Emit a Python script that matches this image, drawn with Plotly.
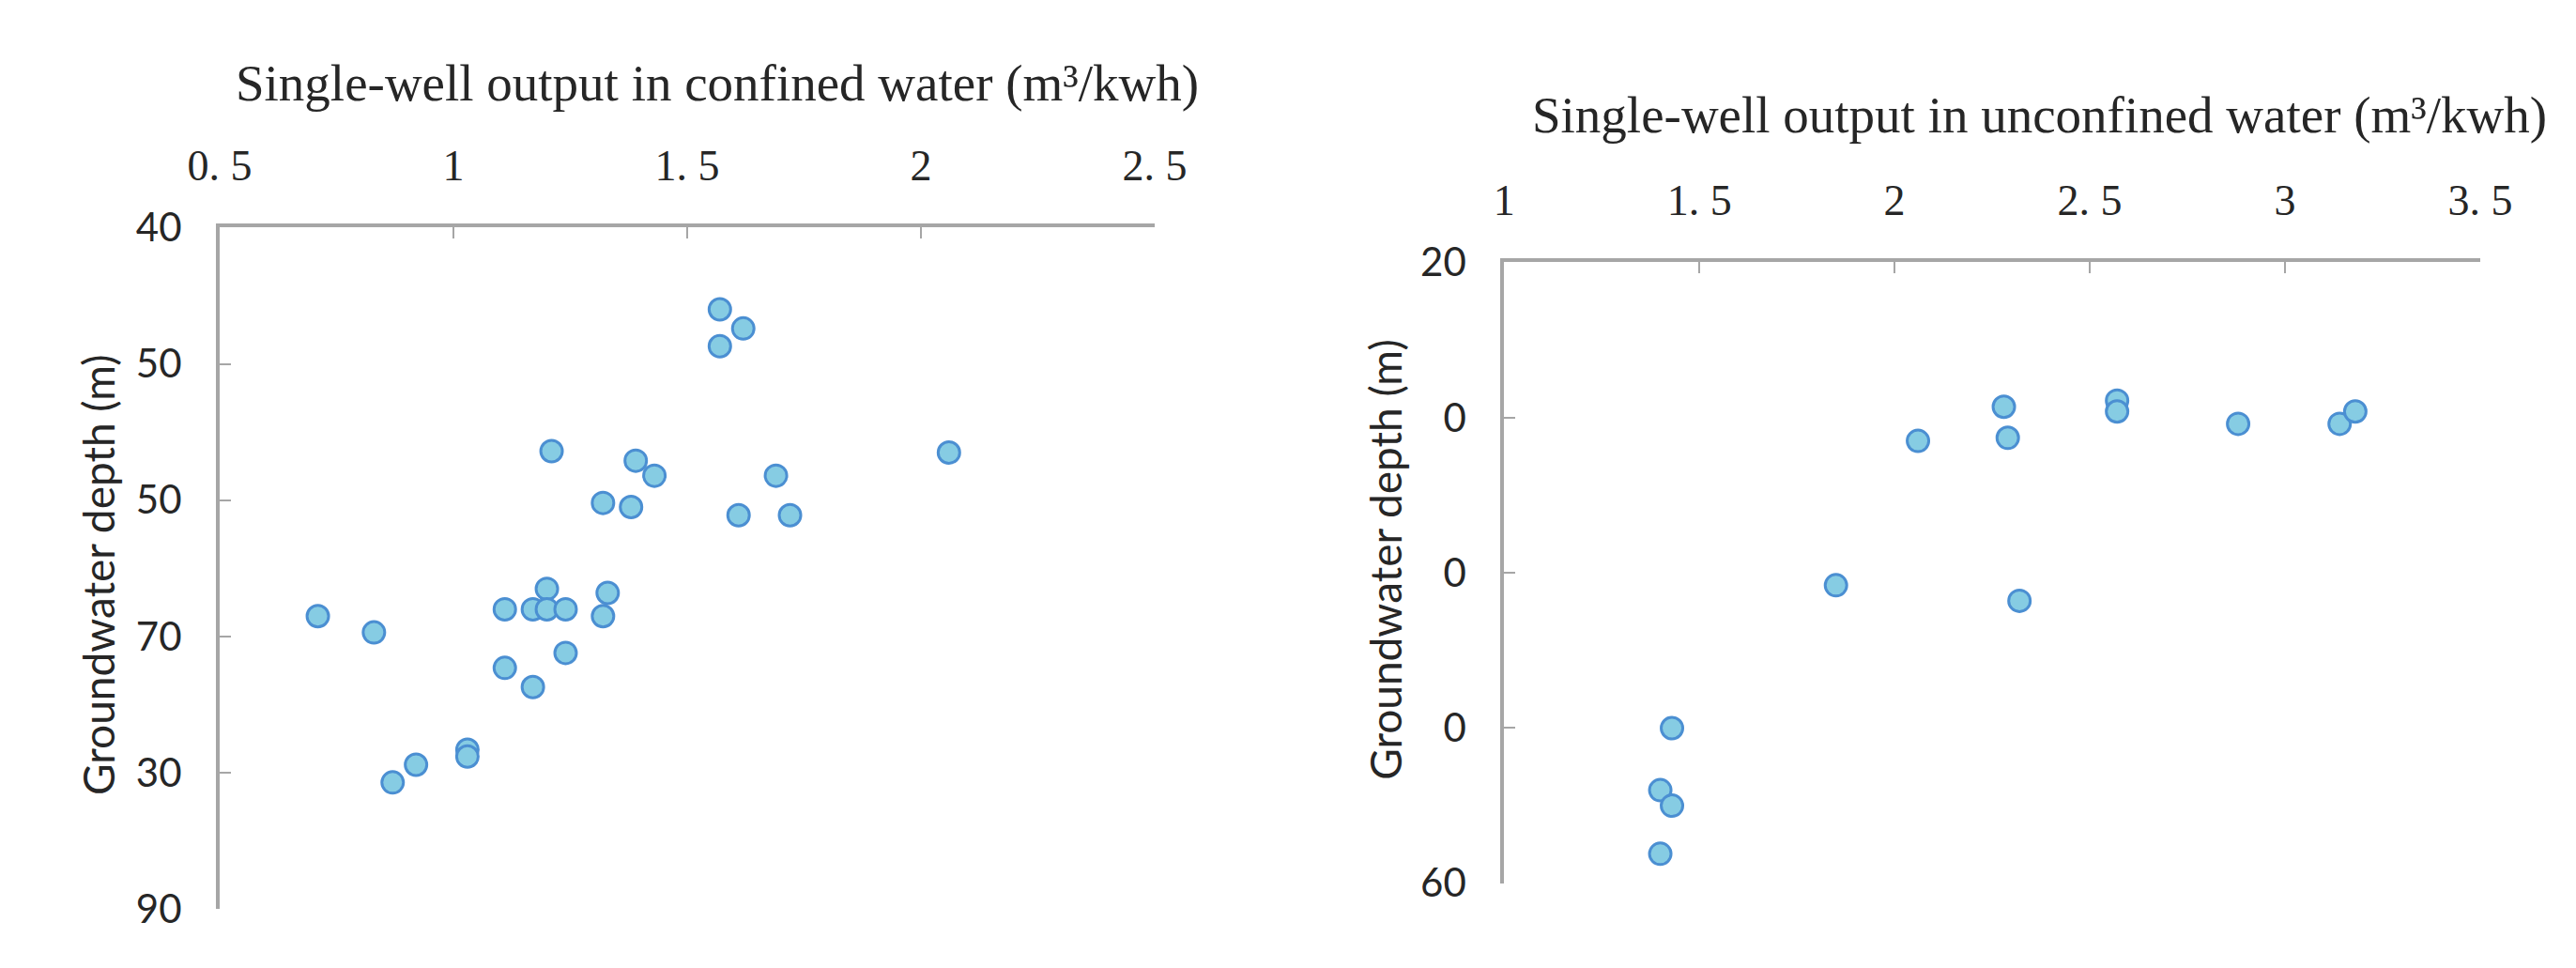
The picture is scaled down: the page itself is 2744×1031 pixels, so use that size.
import plotly.graph_objects as go

# confined water wells
conf_output = [1.57, 1.62, 1.57, 1.21, 1.39, 1.43, 1.69, 2.06, 1.32, 1.38,
               1.61, 1.72, 1.20, 1.33, 1.11, 1.17, 1.20, 1.24, 1.32, 0.71,
               0.83, 1.24, 1.11, 1.17, 1.03, 1.03, 0.92, 0.87]
conf_depth = [46.0, 47.4, 48.7, 56.4, 57.1, 58.2, 58.2, 56.5, 60.2, 60.5,
              61.1, 61.1, 66.5, 66.8, 68.0, 68.0, 68.0, 68.0, 68.5, 68.5,
              69.7, 71.2, 72.3, 73.7, 78.3, 78.8, 79.4, 80.7]

# unconfined water wells
unconf_output = [2.28, 2.06, 2.29, 2.57, 2.57, 2.88, 3.14, 3.18, 1.85, 2.32,
                 1.43, 1.40, 1.43, 1.40]
unconf_depth = [29.3, 31.5, 31.3, 28.9, 29.6, 30.4, 30.4, 29.6, 40.8, 41.8,
                50.0, 54.0, 55.0, 58.1]

# tick labels as printed in the figure
conf_xticks = [0.5, 1, 1.5, 2, 2.5]
conf_xtext = ["0. 5", "1", "1. 5", "2", "2. 5"]
conf_yticks = [40, 50, 60, 70, 80, 90]
conf_ytext = ["40", "50", "50", "70", "30", "90"]

unconf_xticks = [1, 1.5, 2, 2.5, 3, 3.5]
unconf_xtext = ["1", "1. 5", "2", "2. 5", "3", "3. 5"]
unconf_yticks = [20, 30, 40, 50, 60]
unconf_ytext = ["20", "0", "0", "0", "60"]

W, H = 2744, 1031
AXIS = "#a6a6a6"
TXT = "#262626"
SERIF = "Liberation Serif"
SANS = "Lato"

marker = dict(size=23, color="#86cce3", line=dict(color="#4b8fd2", width=3))

fig = go.Figure()
fig.add_trace(go.Scatter(x=conf_output, y=conf_depth, mode="markers",
                         marker=marker, xaxis="x", yaxis="y", showlegend=False))
fig.add_trace(go.Scatter(x=unconf_output, y=unconf_depth, mode="markers",
                         marker=marker, xaxis="x2", yaxis="y2", showlegend=False))

xcommon = dict(side="top", showline=True, linecolor=AXIS, linewidth=4,
               ticks="inside", ticklen=12, tickwidth=2, tickcolor=AXIS,
               showgrid=False, zeroline=False, ticklabelstandoff=28,
               tickfont=dict(family=SERIF, size=46, color=TXT))
ycommon = dict(showline=True, linecolor=AXIS, linewidth=4,
               ticks="inside", ticklen=12, tickwidth=2, tickcolor=AXIS,
               showgrid=False, zeroline=False, ticklabelstandoff=28,
               tickfont=dict(family=SANS, size=42, color=TXT))

fig.update_layout(
    width=W, height=H, autosize=False,
    margin=dict(l=0, r=0, t=0, b=0),
    paper_bgcolor="white", plot_bgcolor="white",
    xaxis=dict(xcommon, domain=[196 / W, 1218 / W], range=[0.5, 2.5],
               tickvals=conf_xticks, ticktext=conf_xtext, anchor="y"),
    yaxis=dict(ycommon, domain=[1 - 982 / H, 1 - 219 / H], range=[90, 40],
               tickvals=conf_yticks, ticktext=conf_ytext, anchor="x"),
    xaxis2=dict(xcommon, domain=[1600 / W, 2667 / W], range=[1, 3.5],
                tickvals=unconf_xticks, ticktext=unconf_xtext, anchor="y2"),
    yaxis2=dict(ycommon, domain=[1 - 953 / H, 1 - 258 / H], range=[60, 20],
                tickvals=unconf_yticks, ticktext=unconf_ytext, anchor="x2"),
)

titles = [
    ("Single-well output in confined water (m³/kwh)", 740, 57),
    ("Single-well output in unconfined water (m³/kwh)", 2185, 93),
]
for text, px_x, px_y in titles:
    fig.add_annotation(text=text, xref="paper", yref="paper",
                       x=px_x / W, y=1 - px_y / H, xanchor="center", yanchor="middle",
                       showarrow=False, font=dict(family=SERIF, size=55, color=TXT))

for px_x, px_y in [(63, 607), (1470, 591)]:
    fig.add_annotation(text="Groundwater depth (m)", textangle=-90,
                       xref="paper", yref="paper", x=px_x / W, y=1 - px_y / H,
                       xanchor="center", yanchor="middle", showarrow=False,
                       font=dict(family=SANS, size=46, color=TXT))

fig.write_html("out.html")
